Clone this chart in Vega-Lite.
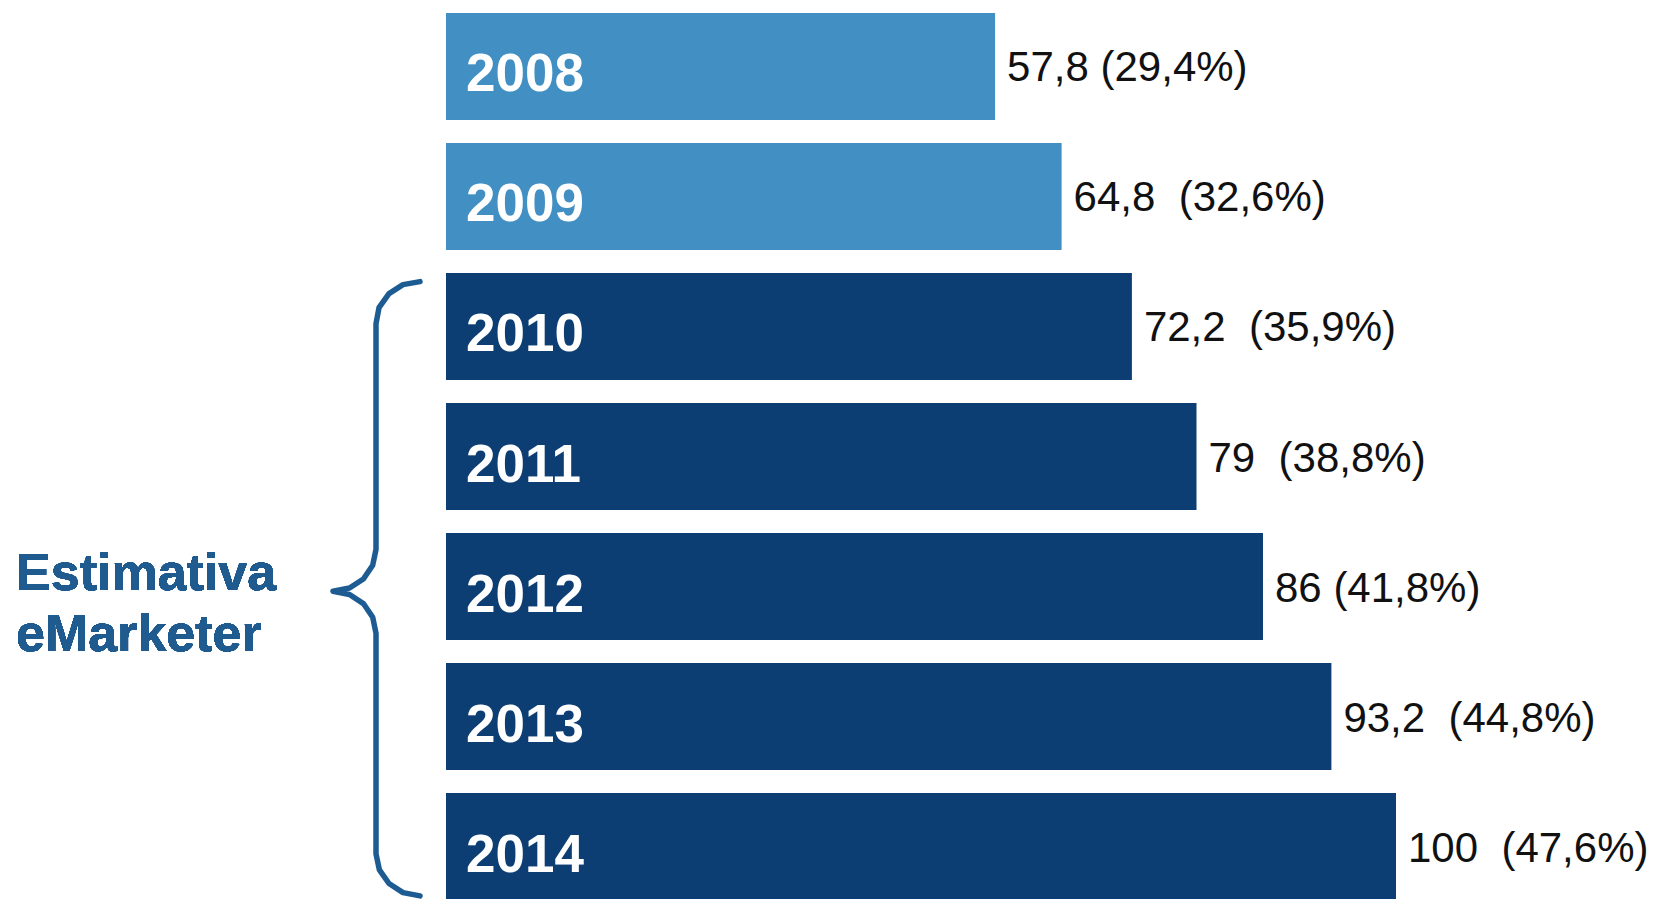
{
  "$schema": "https://vega.github.io/schema/vega-lite/v6.json",
  "width": 1657,
  "height": 899,
  "padding": 0,
  "autosize": "none",
  "background": "#ffffff",
  "config": {"view": {"stroke": null}},
  "resolve": {"scale": {"y": "independent"}},
  "layer": [
    {
      "data": {
        "values": [
          {"ano": "2008", "valor": 57.8, "rotulo": "57,8 (29,4%)", "tipo": "Realizado"},
          {"ano": "2009", "valor": 64.8, "rotulo": "64,8\u00a0 (32,6%)", "tipo": "Realizado"},
          {"ano": "2010", "valor": 72.2, "rotulo": "72,2\u00a0 (35,9%)", "tipo": "Estimativa eMarketer"},
          {"ano": "2011", "valor": 79, "rotulo": "79\u00a0 (38,8%)", "tipo": "Estimativa eMarketer"},
          {"ano": "2012", "valor": 86, "rotulo": "86 (41,8%)", "tipo": "Estimativa eMarketer"},
          {"ano": "2013", "valor": 93.2, "rotulo": "93,2\u00a0 (44,8%)", "tipo": "Estimativa eMarketer"},
          {"ano": "2014", "valor": 100, "rotulo": "100\u00a0 (47,6%)", "tipo": "Estimativa eMarketer"}
        ]
      },
      "encoding": {
        "y": {
          "field": "ano",
          "type": "ordinal",
          "axis": null,
          "scale": {"range": [13, 900], "paddingInner": 0.178, "paddingOuter": 0}
        }
      },
      "layer": [
        {
          "mark": {"type": "bar"},
          "encoding": {
            "x": {
              "field": "valor",
              "type": "quantitative",
              "axis": null,
              "scale": {"domain": [0, 100], "range": [446, 1396], "nice": false, "zero": true}
            },
            "color": {
              "field": "tipo",
              "type": "nominal",
              "legend": null,
              "scale": {"domain": ["Realizado", "Estimativa eMarketer"], "range": ["#418FC3", "#0D3E73"]}
            }
          }
        },
        {
          "mark": {
            "type": "text",
            "align": "left",
            "baseline": "alphabetic",
            "dx": 20,
            "dy": 25,
            "font": "Liberation Sans, Arial, sans-serif",
            "fontWeight": "bold",
            "fontSize": 53,
            "color": "#ffffff"
          },
          "encoding": {
            "x": {"datum": 0, "type": "quantitative"},
            "text": {"field": "ano", "type": "nominal"}
          }
        },
        {
          "mark": {
            "type": "text",
            "align": "left",
            "baseline": "alphabetic",
            "dx": 12,
            "dy": 15,
            "font": "Liberation Sans, Arial, sans-serif",
            "fontSize": 42,
            "color": "#111111"
          },
          "encoding": {
            "x": {"field": "valor", "type": "quantitative"},
            "text": {"field": "rotulo", "type": "nominal"}
          }
        }
      ]
    },
    {
      "data": {
        "values": [
          {"i": 1, "bx": -2.737, "by": 2009.655},
          {"i": 2, "bx": -4.526, "by": 2009.678},
          {"i": 3, "bx": -6.0, "by": 2009.747},
          {"i": 4, "bx": -7.053, "by": 2009.855},
          {"i": 5, "bx": -7.368, "by": 2009.978},
          {"i": 6, "bx": -7.368, "by": 2011.714},
          {"i": 7, "bx": -7.716, "by": 2011.836},
          {"i": 8, "bx": -8.695, "by": 2011.942},
          {"i": 9, "bx": -10.158, "by": 2012.011},
          {"i": 10, "bx": -11.895, "by": 2012.036},
          {"i": 11, "bx": -10.158, "by": 2012.061},
          {"i": 12, "bx": -8.695, "by": 2012.131},
          {"i": 13, "bx": -7.716, "by": 2012.236},
          {"i": 14, "bx": -7.368, "by": 2012.359},
          {"i": 15, "bx": -7.368, "by": 2014.056},
          {"i": 16, "bx": -7.011, "by": 2014.179},
          {"i": 17, "bx": -6.0, "by": 2014.284},
          {"i": 18, "bx": -4.526, "by": 2014.354},
          {"i": 19, "bx": -2.737, "by": 2014.379}
        ]
      },
      "layer": [
        {
          "mark": {"type": "line", "color": "#1D5C93", "strokeWidth": 5.5, "strokeCap": "round", "strokeJoin": "round", "interpolate": "linear"},
          "encoding": {
            "x": {"field": "bx", "type": "quantitative"},
            "y": {
              "field": "by",
              "type": "quantitative",
              "axis": null,
              "scale": {"domain": [2007.5, 2014.5], "range": [1.44, 911.6], "nice": false, "zero": false}
            },
            "order": {"field": "i", "type": "quantitative"}
          }
        },
        {
          "mark": {
            "type": "text",
            "text": ["Estimativa", "eMarketer"],
            "align": "left",
            "baseline": "alphabetic",
            "lineHeight": 61,
            "font": "Liberation Sans, Arial, sans-serif",
            "fontWeight": "bold",
            "fontSize": 52,
            "color": "#1F5B8F"
          },
          "encoding": {
            "x": {"datum": -45.26, "type": "quantitative"},
            "y": {"datum": 2012.027, "type": "quantitative"}
          }
        }
      ]
    }
  ]
}
